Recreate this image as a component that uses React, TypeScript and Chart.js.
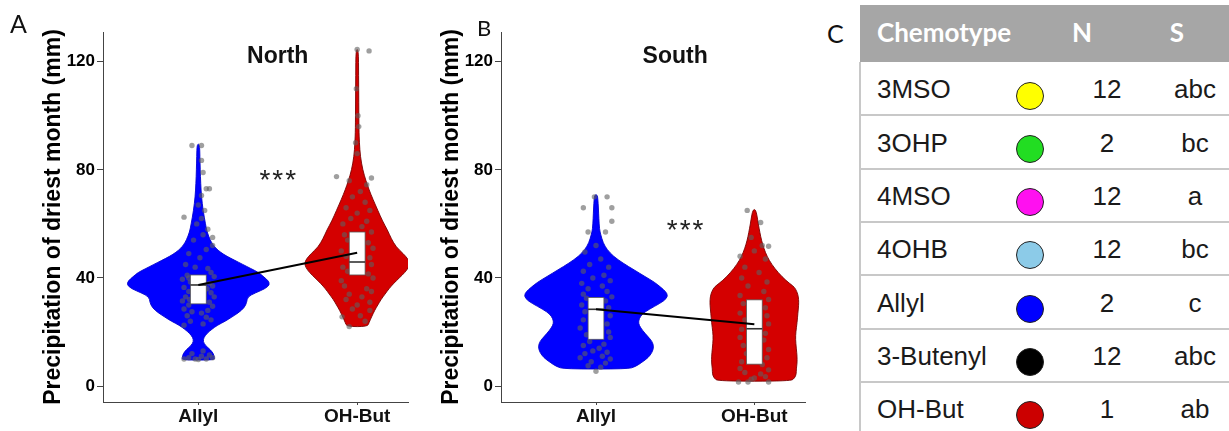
import React, { useEffect, useRef } from 'react';
import { Chart, registerables } from 'chart.js';

Chart.register(...registerables);

// ---------------- data ----------------
const categories = ['Allyl', 'OH-But'];
const yTicks = [0, 40, 80, 120];
const yAxisTitle = 'Precipitation of driest month (mm)';
const xAxisTitle = 'Chemotype';
const violinColors = ['#0000ff', '#d40000'];
const violinEdges = ['#0000d0', '#7a0000'];

// violin outlines: [value, half-width in category units]
const northAllylViolin: [number, number][] = [
  [9.6, 0.1], [10.5, 0.102], [12, 0.095], [13.5, 0.075], [15, 0.045], [16.5, 0.03], [18, 0.035],
  [19.5, 0.055], [21, 0.085], [22.5, 0.12], [24, 0.17], [25.5, 0.21], [27, 0.25], [29, 0.29],
  [31, 0.305], [33, 0.31], [34.5, 0.36], [36, 0.42], [37.5, 0.45], [39, 0.44], [40.5, 0.41],
  [42, 0.38], [43.5, 0.33], [45, 0.28], [46.5, 0.23], [48, 0.18], [49.5, 0.14], [51, 0.11],
  [52.5, 0.09], [54, 0.075], [57, 0.055], [60, 0.045], [65, 0.03], [70, 0.02], [75, 0.015],
  [80, 0.012], [85, 0.01], [89.5, 0.008],
];
const northOHButViolin: [number, number][] = [
  [22, 0.065], [23.5, 0.075], [25.5, 0.09], [28, 0.11], [30, 0.13], [32, 0.15], [34, 0.175],
  [36, 0.2], [38, 0.23], [40, 0.265], [42, 0.3], [44, 0.325], [45.5, 0.33], [47, 0.32],
  [49, 0.29], [51.5, 0.245], [54.5, 0.215], [57.8, 0.19], [61, 0.16], [65, 0.13], [69, 0.1],
  [72.6, 0.075], [76, 0.055], [80, 0.035], [85, 0.02], [90, 0.014], [95, 0.011], [105, 0.01],
  [115, 0.009], [124.5, 0.008],
];
const southAllylViolin: [number, number][] = [
  [6.3, 0.2], [7.2, 0.25], [8.8, 0.29], [10.5, 0.33], [12.5, 0.355], [14.5, 0.365], [16.5, 0.355],
  [18.5, 0.325], [20.5, 0.295], [22.5, 0.272], [24, 0.268], [25.8, 0.28], [27.5, 0.31],
  [29.5, 0.37], [31.5, 0.43], [33.3, 0.455], [35, 0.44], [36.5, 0.41], [38.4, 0.37], [40.5, 0.31],
  [43, 0.24], [45.5, 0.17], [48, 0.11], [50.5, 0.07], [53, 0.045], [56, 0.03], [58, 0.022],
  [62, 0.018], [66, 0.015], [69, 0.012], [70.8, 0.008],
];
const southOHButViolin: [number, number][] = [
  [1.8, 0.23], [3, 0.255], [4.5, 0.265], [6.3, 0.265], [8.5, 0.27], [11, 0.27], [14, 0.265],
  [17.3, 0.26], [20, 0.262], [23.5, 0.27], [27, 0.275], [30, 0.28], [32, 0.28], [34, 0.275],
  [36, 0.26], [37, 0.245], [39, 0.2], [42, 0.15], [45, 0.11], [48, 0.08], [51, 0.06],
  [54, 0.045], [56.8, 0.035], [60, 0.025], [63, 0.017], [65.3, 0.008],
];

// jittered observations: [x offset from category, value]
const northAllylPoints: [number, number][] = [
  [-0.04, 89], [0.02, 89], [0.02, 83.5], [0.03, 79], [0.05, 73], [0.07, 73], [0.02, 70.5],
  [-0.09, 62.5], [0.09, 55], [0.09, 52], [0.0, 67], [0.04, 65], [0.02, 62], [-0.01, 60],
  [0.06, 58], [0.03, 56], [-0.03, 54], [0.05, 50.5], [-0.06, 49], [0.01, 47.5], [-0.08, 45],
  [-0.02, 44], [0.06, 43.5], [0.08, 42], [-0.07, 41], [0.1, 40.5], [-0.1, 39.5], [-0.05, 38.5],
  [0.07, 38], [0.09, 37], [-0.09, 36.5], [-0.06, 35], [0.08, 34.5], [0.1, 33], [-0.08, 33],
  [-0.1, 31.5], [0.07, 31], [-0.06, 30], [0.09, 29.5], [-0.09, 28.5], [0.06, 28], [-0.04, 27.5],
  [0.02, 27], [-0.07, 26], [0.05, 25.5], [0.08, 24.5], [-0.05, 24], [-0.09, 22.5], [0.03, 23],
  [-0.06, 40], [0.055, 36], [-0.055, 32], [-0.09, 10], [-0.06, 10.5], [-0.02, 10], [0.02, 11],
  [0.05, 10], [0.09, 10.5], [-0.04, 12], [0.03, 13], [0.0, 9.8], [0.07, 11.5],
];
const northOHButPoints: [number, number][] = [
  [0.0, 124.5], [0.075, 124], [-0.005, 110], [0.005, 100], [0.01, 96], [-0.01, 90], [0.0, 86],
  [-0.13, 77.5], [0.06, 74.5], [0.09, 77], [-0.05, 76], [0.02, 72], [-0.03, 70], [0.05, 68],
  [-0.07, 66], [0.08, 65], [0.0, 64], [-0.04, 62], [0.06, 61], [-0.09, 60], [0.03, 59],
  [0.09, 57], [-0.08, 56], [-0.06, 54], [0.07, 53], [0.1, 51], [-0.1, 50], [-0.07, 48],
  [0.08, 47.5], [0.09, 45], [-0.09, 44], [-0.06, 42.5], [0.07, 41.5], [0.1, 40], [-0.1, 39],
  [-0.08, 37], [0.06, 36], [0.09, 35], [-0.05, 34], [0.03, 33], [-0.07, 32], [0.08, 31],
  [0.0, 30], [-0.03, 28.5], [0.08, 28], [-0.095, 25.6], [-0.05, 22], [0.02, 26], [0.05, 24],
];
const southAllylPoints: [number, number][] = [
  [-0.08, 66], [-0.01, 70], [0.07, 70], [0.1, 66], [0.1, 61], [-0.05, 57], [0.06, 57],
  [-0.07, 49.6], [0.0, 52], [0.03, 47], [-0.04, 45], [0.08, 44], [-0.08, 42.5], [0.05, 41],
  [-0.02, 40], [0.09, 39], [-0.09, 38], [0.04, 37], [-0.05, 36], [0.07, 35], [-0.08, 34],
  [0.1, 33], [-0.06, 32.5], [0.06, 31.5], [-0.09, 30], [0.08, 29], [-0.07, 27.5], [0.09, 26],
  [-0.08, 24.5], [0.07, 23], [-0.1, 21.5], [0.08, 20], [-0.06, 19], [0.09, 18], [-0.04, 16.5],
  [0.05, 15.5], [-0.08, 15], [0.02, 14], [-0.02, 13], [0.07, 12.5], [-0.07, 12], [0.04, 11],
  [-0.1, 10.5], [0.09, 10], [-0.03, 9], [0.06, 8.5], [0.0, 5.5], [-0.05, 7.5], [0.03, 7],
];
const southOHButPoints: [number, number][] = [
  [-0.045, 65], [0.04, 60.5], [0.09, 51.7], [-0.09, 48], [0.05, 52], [-0.02, 55], [0.0, 50],
  [0.07, 47], [-0.06, 44], [0.03, 42], [-0.08, 40], [0.08, 38.5], [-0.04, 37], [0.06, 35],
  [-0.09, 33.5], [0.09, 32], [-0.07, 30.5], [0.07, 29], [-0.09, 27], [0.08, 26], [-0.06, 24.5],
  [0.09, 23], [-0.08, 21], [0.07, 19.5], [-0.09, 18], [0.06, 17], [-0.07, 15], [0.09, 13.5],
  [-0.05, 12], [0.08, 10.5], [-0.08, 9], [0.05, 8], [-0.09, 6.5], [0.09, 6], [-0.06, 5],
  [0.04, 4.5], [-0.1, 1.5], [-0.04, 1.5], [0.09, 1.5], [0.0, 3], [0.07, 3.5], [-0.02, 2.5],
];

// boxes: [q1, median, q3]
const northBoxes = [[30.4, 37.4, 41.1], [41.1, 45.9, 57.0]];
const southBoxes = [[17.3, 28.4, 32.8], [8.1, 21.2, 31.9]];
// connecting line values
const northMeans = [37.4, 49.3];
const southMeans = [28.4, 22.9];

// table
const tableHeaders = ['Chemotype', 'N', 'S'];
const chemotypes = ['3MSO', '3OHP', '4MSO', '4OHB', 'Allyl', '3-Butenyl', 'OH-But'];
const chemotypeColors = ['#ffff00', '#22dd22', '#ff10f0', '#8ccbe8', '#0000ff', '#000000', '#cc0000'];
const nValues = [12, 2, 12, 12, 2, 12, 1];
const sLetters = ['abc', 'bc', 'a', 'bc', 'c', 'abc', 'ab'];

// ---------------- layout ----------------
const FONT = '"Liberation Sans", Arial, sans-serif';
const LATO = 'Lato, "Open Sans", sans-serif';
const H = 460;
const PLOT_TOP = 32;
const PLOT_BOTTOM = 402;
const X_MIN = 0.4;
const X_MAX = 2.32;
const Y_MIN = -5.9;
const Y_MAX = 131;
const BOX_HALF = 0.05;

interface PanelCfg {
  title: string;
  violins: [number, number][][];
  points: [number, number][][];
  boxes: number[][];
  means: number[];
  sig: [number, number];
}

const northCfg: PanelCfg = {
  title: 'North',
  violins: [northAllylViolin, northOHButViolin],
  points: [northAllylPoints, northOHButPoints],
  boxes: northBoxes,
  means: northMeans,
  sig: [1.5, 79],
};
const southCfg: PanelCfg = {
  title: 'South',
  violins: [southAllylViolin, southOHButViolin],
  points: [southAllylPoints, southOHButPoints],
  boxes: southBoxes,
  means: southMeans,
  sig: [1.563, 60.5],
};

function smoothClosed(ctx: CanvasRenderingContext2D, pts: [number, number][]) {
  const n = pts.length;
  const mid = (a: [number, number], b: [number, number]) => [(a[0] + b[0]) / 2, (a[1] + b[1]) / 2];
  const m0 = mid(pts[n - 1], pts[0]);
  ctx.moveTo(m0[0], m0[1]);
  for (let i = 0; i < n; i++) {
    const p = pts[i];
    const m = mid(p, pts[(i + 1) % n]);
    ctx.quadraticCurveTo(p[0], p[1], m[0], m[1]);
  }
  ctx.closePath();
}

function Panel({ cfg, left, width, yWidth, plotRight, titleMid }: {
  cfg: PanelCfg; left: number; width: number; yWidth: number; plotRight: number; titleMid: number;
}) {
  const ref = useRef<HTMLCanvasElement>(null);
  useEffect(() => {
    const canvas = ref.current!;
    const extras = {
      id: 'violinExtras',
      beforeDatasetsDraw(chart: any) {
        const { ctx, chartArea: ca } = chart;
        const xs = chart.scales.x;
        const ys = chart.scales.y;
        ctx.save();
        ctx.beginPath();
        ctx.rect(ca.left, ca.top, ca.right - ca.left, ca.bottom - ca.top);
        ctx.clip();
        cfg.violins.forEach((prof, i) => {
          const c = i + 1;
          const pts: [number, number][] = [];
          prof.forEach(([v, hw]) => pts.push([xs.getPixelForValue(c + hw), ys.getPixelForValue(v)]));
          for (let k = prof.length - 1; k >= 0; k--) {
            const [v, hw] = prof[k];
            pts.push([xs.getPixelForValue(c - hw), ys.getPixelForValue(v)]);
          }
          ctx.beginPath();
          smoothClosed(ctx, pts);
          ctx.fillStyle = violinColors[i];
          ctx.fill();
          ctx.lineWidth = 0.9;
          ctx.strokeStyle = violinEdges[i];
          ctx.stroke();
        });
        ctx.restore();
      },
      beforeDatasetDraw(chart: any, args: any) {
        if (args.index !== 0) return;
        const { ctx } = chart;
        const xs = chart.scales.x;
        const ys = chart.scales.y;
        ctx.save();
        cfg.boxes.forEach(([q1, med, q3], i) => {
          const c = i + 1;
          const xl = xs.getPixelForValue(c - BOX_HALF);
          const xr = xs.getPixelForValue(c + BOX_HALF);
          const yt = ys.getPixelForValue(q3);
          const yb = ys.getPixelForValue(q1);
          const ym = ys.getPixelForValue(med);
          ctx.fillStyle = '#ffffff';
          ctx.fillRect(xl, yt, xr - xl, yb - yt);
          ctx.strokeStyle = '#555';
          ctx.lineWidth = 0.8;
          ctx.strokeRect(xl, yt, xr - xl, yb - yt);
          ctx.beginPath();
          ctx.moveTo(xl, ym);
          ctx.lineTo(xr, ym);
          ctx.lineWidth = 1.6;
          ctx.strokeStyle = '#333';
          ctx.stroke();
        });
        ctx.restore();
      },
      afterDatasetsDraw(chart: any) {
        const { ctx } = chart;
        const xs = chart.scales.x;
        const ys = chart.scales.y;
        ctx.save();
        ctx.fillStyle = '#111';
        ctx.textAlign = 'center';
        ctx.textBaseline = 'middle';
        ctx.font = `bold 23px ${FONT}`;
        ctx.fillText(cfg.title, xs.getPixelForValue(1.5), ys.getPixelForValue(122));
        ctx.font = `28px ${FONT}`;
        ctx.textBaseline = 'alphabetic';
        (ctx as any).letterSpacing = '2px';
        ctx.fillStyle = '#222';
        ctx.fillText('***', xs.getPixelForValue(cfg.sig[0]) + 1, ys.getPixelForValue(cfg.sig[1]) + 0.57 * 28);
        ctx.restore();
      },
    };
    const datasets: any[] = [
      {
        type: 'line',
        label: 'line',
        data: cfg.means.map((m, i) => ({ x: i + 1, y: m })),
        borderColor: '#000',
        borderWidth: 2,
        pointRadius: 0,
        fill: false,
        tension: 0,
      },
      ...cfg.points.map((pts, i) => ({
        type: 'scatter',
        label: categories[i],
        data: pts.map(([dx, v]) => ({ x: i + 1 + dx, y: v })),
        pointRadius: 2.7,
        pointBackgroundColor: 'rgba(95,95,95,0.6)',
        pointBorderWidth: 0,
      })),
    ];
    const chart = new Chart(canvas, {
      type: 'scatter',
      data: { datasets },
      plugins: [extras],
      options: {
        animation: false,
        responsive: false,
        maintainAspectRatio: false,
        devicePixelRatio: 1,
        layout: { padding: { top: PLOT_TOP, right: width - plotRight, left: 0, bottom: 0 } },
        plugins: { legend: { display: false }, tooltip: { enabled: false }, title: { display: false } },
        scales: {
          x: {
            type: 'linear',
            min: X_MIN,
            max: X_MAX,
            afterBuildTicks: (s: any) => { s.ticks = categories.map((_, i) => ({ value: i + 1 })); },
            afterFit: (s: any) => { s.height = H - PLOT_BOTTOM; },
            ticks: {
              callback: (v: any) => categories[Math.round(Number(v)) - 1] ?? '',
              font: { family: FONT, size: 19, weight: 'bold' },
              color: '#111',
              padding: 0,
              maxRotation: 0,
              autoSkip: false,
            },
            grid: { display: true, drawOnChartArea: false, drawTicks: true, tickLength: 3, color: '#444', lineWidth: 1 },
            border: { display: true, color: '#444', width: 1 },
            title: {
              display: true,
              text: xAxisTitle,
              font: { family: FONT, size: 18, weight: 'bold' },
              color: '#111',
              padding: { top: 0, bottom: 8.5 },
            },
          },
          y: {
            type: 'linear',
            min: Y_MIN,
            max: Y_MAX,
            afterBuildTicks: (s: any) => { s.ticks = yTicks.map((v) => ({ value: v })); },
            afterFit: (s: any) => { s.width = yWidth; },
            ticks: { font: { family: FONT, size: 17, weight: 'bold' }, color: '#000', padding: 2 },
            grid: { display: true, drawOnChartArea: false, drawTicks: true, tickLength: 6, color: '#444', lineWidth: 1 },
            border: { display: true, color: '#444', width: 1 },
            title: {
              display: true,
              text: yAxisTitle,
              font: { family: FONT, size: 23, weight: 'bold' },
              color: '#000',
              padding: { top: titleMid - 13.8, bottom: 0 },
            },
          },
        },
      } as any,
    });
    return () => chart.destroy();
  }, []);
  return (
    <canvas
      ref={ref}
      width={width}
      height={H}
      style={{ position: 'absolute', left, top: 0, width, height: H }}
    />
  );
}

function Txt({ x, base, size, family, weight, color, align, k, text }: {
  x: number; base: number; size: number; family: string; weight?: string | number; color: string;
  align?: 'left' | 'center'; k: number; text: string;
}) {
  return (
    <div
      style={{
        position: 'absolute',
        left: x,
        top: base - k * size,
        lineHeight: 0,
        fontSize: size,
        fontFamily: family,
        fontWeight: weight ?? 'normal',
        color,
        whiteSpace: 'nowrap',
        transform: align === 'center' ? 'translateX(-50%)' : undefined,
      }}
    >
      {text}
    </div>
  );
}

function ChemoTable() {
  const rowH = 53.33;
  const top0 = 62;
  const rows = chemotypes.map((name, i) => {
    const rt = top0 + i * rowH;
    return (
      <React.Fragment key={name}>
        {i > 0 && (
          <div style={{ position: 'absolute', left: 860, top: rt - 1, width: 369, height: 2, background: '#c8c8c8' }} />
        )}
        <Txt x={877} base={rt + 36.5} size={26} family={FONT} color="#1a1a1a" k={0.3465} text={name} />
        <div
          style={{
            position: 'absolute',
            left: 1030 - 14.5,
            top: rt + 34 - 14.5,
            width: 26,
            height: 26,
            borderRadius: '50%',
            background: chemotypeColors[i],
            border: '1.5px solid #222',
          }}
        />
        <Txt x={1107} base={rt + 36.5} size={26} family={FONT} color="#1a1a1a" k={0.3465} align="center" text={String(nValues[i])} />
        <Txt x={1195} base={rt + 36.5} size={26} family={FONT} color="#1a1a1a" k={0.3465} align="center" text={sLetters[i]} />
      </React.Fragment>
    );
  });
  return (
    <>
      <div style={{ position: 'absolute', left: 860, top: 5, width: 369, height: 57, background: '#a6a6a6' }} />
      <Txt x={877} base={42} size={26} family={LATO} weight="bold" color="#ffffff" k={0.387} text={tableHeaders[0]} />
      <Txt x={1082} base={42} size={26} family={LATO} weight="bold" color="#ffffff" k={0.387} align="center" text={tableHeaders[1]} />
      <Txt x={1177} base={42} size={26} family={LATO} weight="bold" color="#ffffff" k={0.387} align="center" text={tableHeaders[2]} />
      <div style={{ position: 'absolute', left: 859, top: 62, width: 2, height: 369, background: '#c8c8c8' }} />
      {rows}
    </>
  );
}

export default function App() {
  return (
    <div
      style={{
        position: 'absolute',
        left: 0,
        top: 0,
        width: 1229,
        height: 431,
        overflow: 'hidden',
        background: '#ffffff',
      }}
    >
      <Panel cfg={northCfg} left={0} width={415} yWidth={103} plotRight={408} titleMid={54} />
      <Panel cfg={southCfg} left={415} width={405} yWidth={86} plotRight={390} titleMid={37} />
      <Txt x={10} base={33} size={25} family={LATO} color="#111" k={0.387} text="A" />
      <Txt x={477} base={37} size={22} family={LATO} color="#111" k={0.387} text="B" />
      <Txt x={827} base={43} size={25} family={LATO} color="#111" k={0.387} text="C" />
      <ChemoTable />
    </div>
  );
}
